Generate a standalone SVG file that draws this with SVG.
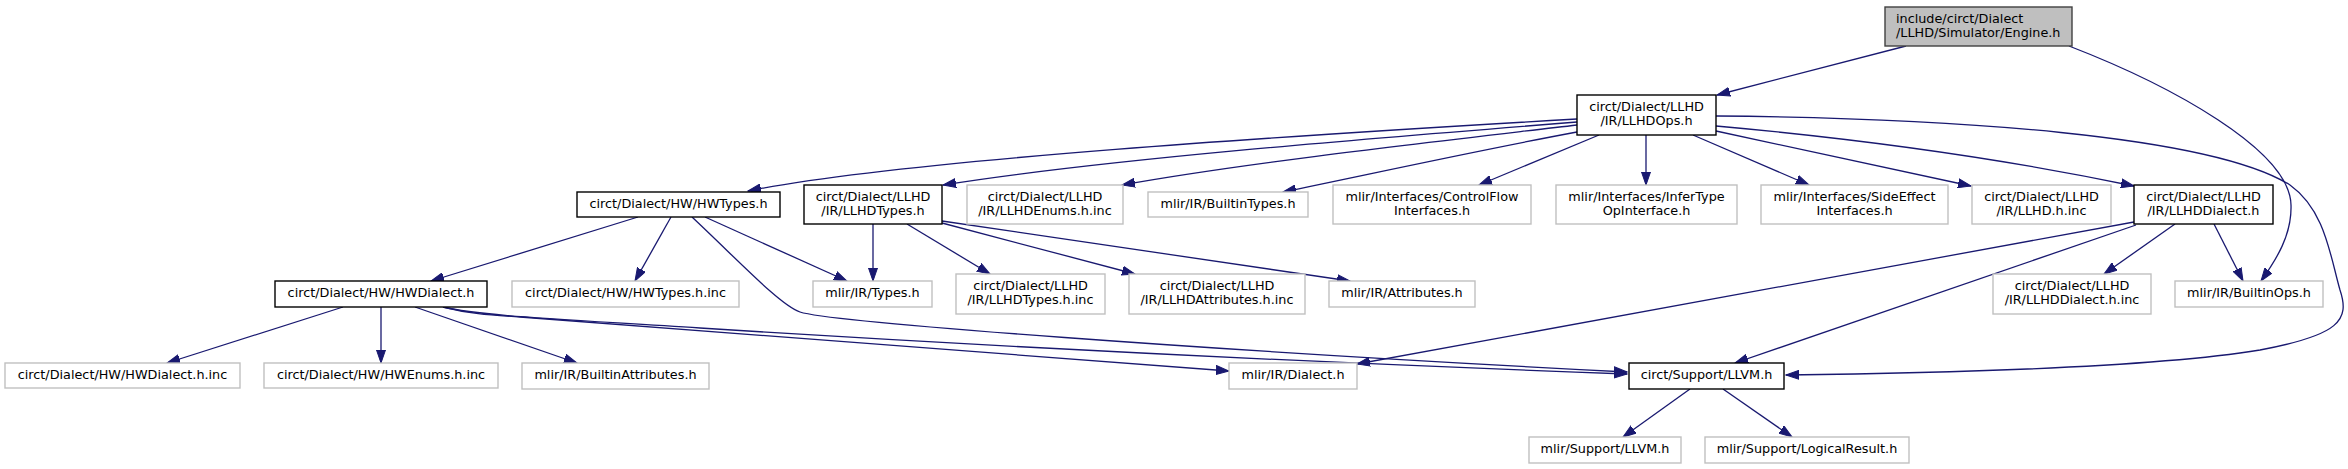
<svg xmlns="http://www.w3.org/2000/svg" width="2348" height="469" viewBox="0 0 2348 469">
<defs>
<style>
text{font-family:"DejaVu Sans","Liberation Sans",sans-serif;font-size:12.8px;fill:#000;text-anchor:middle}
.b rect{fill:#fff;stroke:#000;stroke-width:1.4}
.g rect{fill:#fff;stroke:#c0c0c0;stroke-width:1.4}
.r rect{fill:#bfbfbf;stroke:#404040;stroke-width:1.4}
.r text{text-anchor:start}
#edges path{fill:none;stroke:#191970;stroke-width:1.3;marker-end:url(#ah)}
</style>
<marker id="ah" markerUnits="userSpaceOnUse" markerWidth="14" markerHeight="10" refX="13" refY="5" orient="auto" viewBox="0 0 14 10">
<path d="M0,0.5 L13,5 L0,9.5 z" fill="#191970" stroke="#191970" stroke-width="1"/>
</marker>
</defs>
<rect width="2348" height="469" fill="#fff"/>
<g id="edges">
<path d="M1906,46 L1717,95"/>
<path d="M2069,46 C2170,85 2290,150 2291,205 C2292,235 2276,260 2261,281"/>
<path d="M1577,119 C1300,135 900,160 748,191"/>
<path d="M1577,122 C1350,140 1100,160 943,185"/>
<path d="M1577,125 C1450,140 1250,162 1122,185"/>
<path d="M1577,132 C1480,150 1380,172 1283,192"/>
<path d="M1599,135 L1479,185"/>
<path d="M1646,135 L1646,185"/>
<path d="M1693,135 L1809,185"/>
<path d="M1716,131 L1971,186"/>
<path d="M1716,126 C1850,138 2000,158 2134,186"/>
<path d="M1716,116 C1950,118 2210,135 2290,185 C2325,210 2330,255 2340,290 C2350,320 2340,335 2260,350 C2150,368 1950,373 1786,375"/>
<path d="M638,217 L431,281"/>
<path d="M671,217 L635,281"/>
<path d="M705,217 L847,281"/>
<path d="M692,217 C740,262 780,305 800,312 C830,322 1200,350 1627,372"/>
<path d="M873,224 L873,281"/>
<path d="M907,224 L990,274"/>
<path d="M942,223 L1135,274"/>
<path d="M942,221 L1350,281"/>
<path d="M343,307 L167,363"/>
<path d="M381,307 L381,363"/>
<path d="M415,307 L577,363"/>
<path d="M443,307 C470,314 490,315 520,317 L1229,371"/>
<path d="M443,307 C480,316 560,319 700,328 C1000,347 1300,362 1627,374"/>
<path d="M2134,222 L1357,364"/>
<path d="M2136,225 L1735,363"/>
<path d="M2175,224 L2104,274"/>
<path d="M2214,224 L2243,281"/>
<path d="M1690,389 L1623,437"/>
<path d="M1723,389 L1792,437"/>
</g>
<g id="engine" class="r"><rect x="1885" y="7" width="187" height="39"/><text x="1896" y="22.5">include/circt/Dialect</text><text x="1896" y="36.5">/LLHD/Simulator/Engine.h</text></g>
<g id="llhdops" class="b"><rect x="1577" y="95" width="139" height="40"/><text x="1646.5" y="111">circt/Dialect/LLHD</text><text x="1646.5" y="125">/IR/LLHDOps.h</text></g>
<g id="hwtypes" class="b"><rect x="577" y="192" width="203" height="25"/><text x="678.5" y="207.5">circt/Dialect/HW/HWTypes.h</text></g>
<g id="llhdtypes" class="b"><rect x="804" y="185" width="138" height="39"/><text x="873" y="200.5">circt/Dialect/LLHD</text><text x="873" y="214.5">/IR/LLHDTypes.h</text></g>
<g id="llhdenums" class="g"><rect x="967" y="185" width="156" height="39"/><text x="1045" y="200.5">circt/Dialect/LLHD</text><text x="1045" y="214.5">/IR/LLHDEnums.h.inc</text></g>
<g id="builtintypes" class="g"><rect x="1148" y="192" width="160" height="25"/><text x="1228" y="207.5">mlir/IR/BuiltinTypes.h</text></g>
<g id="controlflow" class="g"><rect x="1333" y="185" width="198" height="39"/><text x="1432" y="200.5">mlir/Interfaces/ControlFlow</text><text x="1432" y="214.5">Interfaces.h</text></g>
<g id="infertype" class="g"><rect x="1556" y="185" width="181" height="39"/><text x="1646.5" y="200.5">mlir/Interfaces/InferType</text><text x="1646.5" y="214.5">OpInterface.h</text></g>
<g id="sideeffect" class="g"><rect x="1761" y="185" width="187" height="39"/><text x="1854.5" y="200.5">mlir/Interfaces/SideEffect</text><text x="1854.5" y="214.5">Interfaces.h</text></g>
<g id="llhdinc" class="g"><rect x="1972" y="185" width="139" height="39"/><text x="2041.5" y="200.5">circt/Dialect/LLHD</text><text x="2041.5" y="214.5">/IR/LLHD.h.inc</text></g>
<g id="llhddialect" class="b"><rect x="2134" y="185" width="139" height="39"/><text x="2203.5" y="200.5">circt/Dialect/LLHD</text><text x="2203.5" y="214.5">/IR/LLHDDialect.h</text></g>
<g id="hwdialect" class="b"><rect x="275" y="281" width="212" height="26"/><text x="381" y="297">circt/Dialect/HW/HWDialect.h</text></g>
<g id="hwtypesinc" class="g"><rect x="512" y="281" width="227" height="26"/><text x="625.5" y="297">circt/Dialect/HW/HWTypes.h.inc</text></g>
<g id="types" class="g"><rect x="813" y="281" width="119" height="26"/><text x="872.5" y="297">mlir/IR/Types.h</text></g>
<g id="llhdtypesinc" class="g"><rect x="956" y="274" width="149" height="40"/><text x="1030.5" y="290">circt/Dialect/LLHD</text><text x="1030.5" y="304">/IR/LLHDTypes.h.inc</text></g>
<g id="llhdattrinc" class="g"><rect x="1129" y="274" width="176" height="40"/><text x="1217" y="290">circt/Dialect/LLHD</text><text x="1217" y="304">/IR/LLHDAttributes.h.inc</text></g>
<g id="attributes" class="g"><rect x="1329" y="281" width="146" height="26"/><text x="1402" y="297">mlir/IR/Attributes.h</text></g>
<g id="llhddialectinc" class="g"><rect x="1993" y="274" width="158" height="40"/><text x="2072" y="290">circt/Dialect/LLHD</text><text x="2072" y="304">/IR/LLHDDialect.h.inc</text></g>
<g id="builtinops" class="g"><rect x="2175" y="281" width="148" height="26"/><text x="2249" y="297">mlir/IR/BuiltinOps.h</text></g>
<g id="hwdialectinc" class="g"><rect x="5" y="363" width="235" height="25"/><text x="122.5" y="379">circt/Dialect/HW/HWDialect.h.inc</text></g>
<g id="hwenumsinc" class="g"><rect x="264" y="363" width="234" height="25"/><text x="381" y="379">circt/Dialect/HW/HWEnums.h.inc</text></g>
<g id="builtinattrs" class="g"><rect x="522" y="363" width="187" height="26"/><text x="615.5" y="379">mlir/IR/BuiltinAttributes.h</text></g>
<g id="dialect" class="g"><rect x="1229" y="363" width="128" height="26"/><text x="1293" y="379">mlir/IR/Dialect.h</text></g>
<g id="circtllvm" class="b"><rect x="1629" y="363" width="155" height="26"/><text x="1706.5" y="379">circt/Support/LLVM.h</text></g>
<g id="mlirllvm" class="g"><rect x="1529" y="437" width="152" height="26"/><text x="1605" y="453">mlir/Support/LLVM.h</text></g>
<g id="logicalresult" class="g"><rect x="1705" y="437" width="204" height="26"/><text x="1807" y="453">mlir/Support/LogicalResult.h</text></g>
</svg>
